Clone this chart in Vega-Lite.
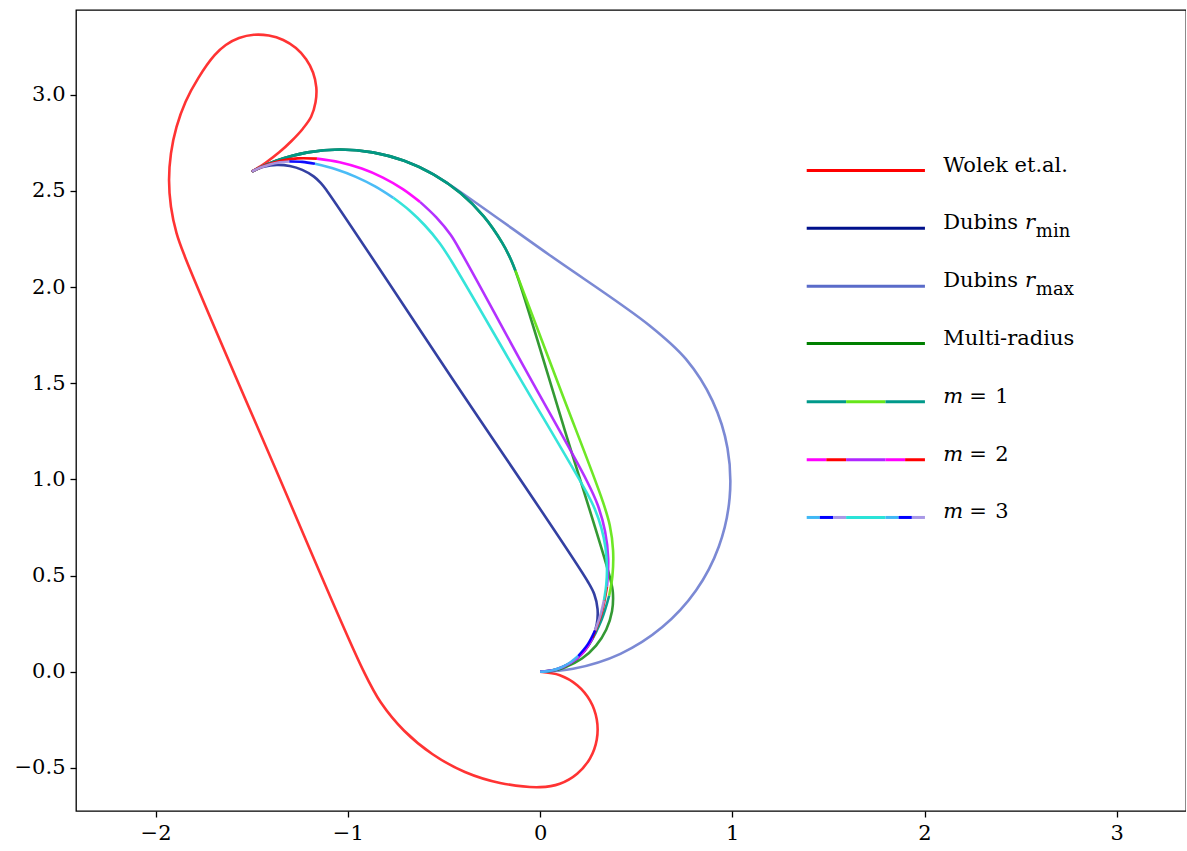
{
 "$schema": "https://vega.github.io/schema/vega-lite/v6.json",
 "width": 1110, "height": 801,
 "autosize": {"type": "none"},
 "padding": {"left": 76, "top": 10, "right": 0, "bottom": 40},
 "background": "white",
 "config": {
  "view": {"stroke": "black", "strokeWidth": 1.3},
  "axis": {"domain": false, "grid": false, "ticks": true, "tickColor": "black", "tickSize": 6, "tickWidth": 1.3, "labelFont": "DejaVu Serif", "labelFontSize": 21, "labelColor": "black", "labelPadding": 5, "title": null}
 },
 "datasets": {
  "paths": [
   {"p":"wolek","k":"wolek","s":"w","i":0,"x":-1.5,"y":2.6},
   {"p":"wolek","k":"wolek","s":"w","i":1,"x":-1.426,"y":2.647},
   {"p":"wolek","k":"wolek","s":"w","i":2,"x":-1.357,"y":2.7},
   {"p":"wolek","k":"wolek","s":"w","i":3,"x":-1.293,"y":2.759},
   {"p":"wolek","k":"wolek","s":"w","i":4,"x":-1.234,"y":2.823},
   {"p":"wolek","k":"wolek","s":"w","i":5,"x":-1.191,"y":2.885},
   {"p":"wolek","k":"wolek","s":"w","i":6,"x":-1.168,"y":2.96},
   {"p":"wolek","k":"wolek","s":"w","i":7,"x":-1.164,"y":3.038},
   {"p":"wolek","k":"wolek","s":"w","i":8,"x":-1.181,"y":3.115},
   {"p":"wolek","k":"wolek","s":"w","i":9,"x":-1.217,"y":3.184},
   {"p":"wolek","k":"wolek","s":"w","i":10,"x":-1.27,"y":3.242},
   {"p":"wolek","k":"wolek","s":"w","i":11,"x":-1.336,"y":3.284},
   {"p":"wolek","k":"wolek","s":"w","i":12,"x":-1.411,"y":3.307},
   {"p":"wolek","k":"wolek","s":"w","i":13,"x":-1.489,"y":3.311},
   {"p":"wolek","k":"wolek","s":"w","i":14,"x":-1.566,"y":3.294},
   {"p":"wolek","k":"wolek","s":"w","i":15,"x":-1.635,"y":3.258},
   {"p":"wolek","k":"wolek","s":"w","i":16,"x":-1.693,"y":3.205},
   {"p":"wolek","k":"wolek","s":"w","i":17,"x":-1.778,"y":3.086},
   {"p":"wolek","k":"wolek","s":"w","i":18,"x":-1.844,"y":2.963},
   {"p":"wolek","k":"wolek","s":"w","i":19,"x":-1.891,"y":2.832},
   {"p":"wolek","k":"wolek","s":"w","i":20,"x":-1.92,"y":2.695},
   {"p":"wolek","k":"wolek","s":"w","i":21,"x":-1.93,"y":2.556},
   {"p":"wolek","k":"wolek","s":"w","i":22,"x":-1.92,"y":2.417},
   {"p":"wolek","k":"wolek","s":"w","i":23,"x":-1.891,"y":2.28},
   {"p":"wolek","k":"wolek","s":"w","i":24,"x":-1.848,"y":2.159},
   {"p":"wolek","k":"wolek","s":"w","i":25,"x":-1.383,"y":1.0705},
   {"p":"wolek","k":"wolek","s":"w","i":26,"x":-0.918,"y":0.003},
   {"p":"wolek","k":"wolek","s":"w","i":27,"x":-0.829,"y":-0.159},
   {"p":"wolek","k":"wolek","s":"w","i":28,"x":-0.707,"y":-0.307},
   {"p":"wolek","k":"wolek","s":"w","i":29,"x":-0.559,"y":-0.429},
   {"p":"wolek","k":"wolek","s":"w","i":30,"x":-0.391,"y":-0.521},
   {"p":"wolek","k":"wolek","s":"w","i":31,"x":-0.208,"y":-0.578},
   {"p":"wolek","k":"wolek","s":"w","i":32,"x":0,"y":-0.6},
   {"p":"wolek","k":"wolek","s":"w","i":33,"x":0.103,"y":-0.582},
   {"p":"wolek","k":"wolek","s":"w","i":34,"x":0.193,"y":-0.53},
   {"p":"wolek","k":"wolek","s":"w","i":35,"x":0.26,"y":-0.45},
   {"p":"wolek","k":"wolek","s":"w","i":36,"x":0.295,"y":-0.352},
   {"p":"wolek","k":"wolek","s":"w","i":37,"x":0.295,"y":-0.248},
   {"p":"wolek","k":"wolek","s":"w","i":38,"x":0.26,"y":-0.15},
   {"p":"wolek","k":"wolek","s":"w","i":39,"x":0.193,"y":-0.07},
   {"p":"wolek","k":"wolek","s":"w","i":40,"x":0.103,"y":-0.018},
   {"p":"wolek","k":"wolek","s":"w","i":41,"x":0,"y":0},

   {"p":"rmin","k":"rmin","s":"n","i":0,"x":-1.5,"y":2.6},
   {"p":"rmin","k":"rmin","s":"n","i":1,"x":-1.437,"y":2.625},
   {"p":"rmin","k":"rmin","s":"n","i":2,"x":-1.369,"y":2.635},
   {"p":"rmin","k":"rmin","s":"n","i":3,"x":-1.302,"y":2.629},
   {"p":"rmin","k":"rmin","s":"n","i":4,"x":-1.237,"y":2.609},
   {"p":"rmin","k":"rmin","s":"n","i":5,"x":-1.178,"y":2.575},
   {"p":"rmin","k":"rmin","s":"n","i":6,"x":-1.14,"y":2.54},
   {"p":"rmin","k":"rmin","s":"n","i":7,"x":-1.11,"y":2.502},
   {"p":"rmin","k":"rmin","s":"n","i":8,"x":-0.43,"y":1.484},
   {"p":"rmin","k":"rmin","s":"n","i":9,"x":0.2495,"y":0.4666},
   {"p":"rmin","k":"rmin","s":"n","i":10,"x":0.282,"y":0.403},
   {"p":"rmin","k":"rmin","s":"n","i":11,"x":0.299,"y":0.326},
   {"p":"rmin","k":"rmin","s":"n","i":12,"x":0.295,"y":0.248},
   {"p":"rmin","k":"rmin","s":"n","i":13,"x":0.272,"y":0.173},
   {"p":"rmin","k":"rmin","s":"n","i":14,"x":0.23,"y":0.107},
   {"p":"rmin","k":"rmin","s":"n","i":15,"x":0.172,"y":0.054},
   {"p":"rmin","k":"rmin","s":"n","i":16,"x":0.103,"y":0.018},
   {"p":"rmin","k":"rmin","s":"n","i":17,"x":0.052,"y":0.0046},
   {"p":"rmin","k":"rmin","s":"n","i":18,"x":0,"y":0},

   {"p":"rmax","k":"rmax","s":"x","i":0,"x":-1.5,"y":2.6},
   {"p":"rmax","k":"rmax","s":"x","i":1,"x":-1.373,"y":2.656},
   {"p":"rmax","k":"rmax","s":"x","i":2,"x":-1.209,"y":2.7},
   {"p":"rmax","k":"rmax","s":"x","i":3,"x":-1.04,"y":2.715},
   {"p":"rmax","k":"rmax","s":"x","i":4,"x":-0.871,"y":2.7},
   {"p":"rmax","k":"rmax","s":"x","i":5,"x":-0.707,"y":2.656},
   {"p":"rmax","k":"rmax","s":"x","i":6,"x":-0.582,"y":2.601},
   {"p":"rmax","k":"rmax","s":"x","i":7,"x":-0.479,"y":2.538},
   {"p":"rmax","k":"rmax","s":"x","i":8,"x":0.045,"y":2.169},
   {"p":"rmax","k":"rmax","s":"x","i":9,"x":0.569,"y":1.8},
   {"p":"rmax","k":"rmax","s":"x","i":10,"x":0.758,"y":1.626},
   {"p":"rmax","k":"rmax","s":"x","i":11,"x":0.897,"y":1.408},
   {"p":"rmax","k":"rmax","s":"x","i":12,"x":0.975,"y":1.162},
   {"p":"rmax","k":"rmax","s":"x","i":13,"x":0.986,"y":0.904},
   {"p":"rmax","k":"rmax","s":"x","i":14,"x":0.93,"y":0.651},
   {"p":"rmax","k":"rmax","s":"x","i":15,"x":0.811,"y":0.422},
   {"p":"rmax","k":"rmax","s":"x","i":16,"x":0.636,"y":0.232},
   {"p":"rmax","k":"rmax","s":"x","i":17,"x":0.418,"y":0.093},
   {"p":"rmax","k":"rmax","s":"x","i":18,"x":0.172,"y":0.015},
   {"p":"rmax","k":"rmax","s":"x","i":19,"x":0,"y":0},

   {"p":"multi","k":"multi","s":"g","i":0,"x":-1.5,"y":2.6},
   {"p":"multi","k":"multi","s":"g","i":1,"x":-1.373,"y":2.656},
   {"p":"multi","k":"multi","s":"g","i":2,"x":-1.209,"y":2.7},
   {"p":"multi","k":"multi","s":"g","i":3,"x":-1.04,"y":2.715},
   {"p":"multi","k":"multi","s":"g","i":4,"x":-0.871,"y":2.7},
   {"p":"multi","k":"multi","s":"g","i":5,"x":-0.707,"y":2.656},
   {"p":"multi","k":"multi","s":"g","i":6,"x":-0.553,"y":2.584},
   {"p":"multi","k":"multi","s":"g","i":7,"x":-0.413,"y":2.487},
   {"p":"multi","k":"multi","s":"g","i":8,"x":-0.293,"y":2.367},
   {"p":"multi","k":"multi","s":"g","i":9,"x":-0.196,"y":2.228},
   {"p":"multi","k":"multi","s":"g","i":10,"x":-0.146,"y":2.129},
   {"p":"multi","k":"multi","s":"g","i":11,"x":-0.108,"y":2.026},
   {"p":"multi","k":"multi","s":"g","i":12,"x":0.1275,"y":1.259},
   {"p":"multi","k":"multi","s":"g","i":13,"x":0.363,"y":0.4915},
   {"p":"multi","k":"multi","s":"g","i":14,"x":0.3786,"y":0.4131},
   {"p":"multi","k":"multi","s":"g","i":15,"x":0.3742,"y":0.314},
   {"p":"multi","k":"multi","s":"g","i":16,"x":0.3444,"y":0.2194},
   {"p":"multi","k":"multi","s":"g","i":17,"x":0.2911,"y":0.1357},
   {"p":"multi","k":"multi","s":"g","i":18,"x":0.218,"y":0.0687},
   {"p":"multi","k":"multi","s":"g","i":19,"x":0.13,"y":0.0229},
   {"p":"multi","k":"multi","s":"g","i":20,"x":0.066,"y":0.0058},
   {"p":"multi","k":"multi","s":"g","i":21,"x":0,"y":0},

   {"p":"m1","k":"teal","s":"m1a","i":0,"x":-1.5,"y":2.6},
   {"p":"m1","k":"teal","s":"m1a","i":1,"x":-1.373,"y":2.656},
   {"p":"m1","k":"teal","s":"m1a","i":2,"x":-1.209,"y":2.7},
   {"p":"m1","k":"teal","s":"m1a","i":3,"x":-1.04,"y":2.715},
   {"p":"m1","k":"teal","s":"m1a","i":4,"x":-0.871,"y":2.7},
   {"p":"m1","k":"teal","s":"m1a","i":5,"x":-0.707,"y":2.656},
   {"p":"m1","k":"teal","s":"m1a","i":6,"x":-0.553,"y":2.584},
   {"p":"m1","k":"teal","s":"m1a","i":7,"x":-0.413,"y":2.487},
   {"p":"m1","k":"teal","s":"m1a","i":8,"x":-0.293,"y":2.367},
   {"p":"m1","k":"teal","s":"m1a","i":9,"x":-0.196,"y":2.228},
   {"p":"m1","k":"teal","s":"m1a","i":10,"x":-0.156,"y":2.152},
   {"p":"m1","k":"teal","s":"m1a","i":11,"x":-0.128,"y":2.085},
   {"p":"m1","k":"lime","s":"m1b","i":0,"x":-0.128,"y":2.085},
   {"p":"m1","k":"lime","s":"m1b","i":1,"x":0.101,"y":1.48},
   {"p":"m1","k":"lime","s":"m1b","i":2,"x":0.3264,"y":0.8844},
   {"p":"m1","k":"lime","s":"m1b","i":3,"x":0.3625,"y":0.7613},
   {"p":"m1","k":"lime","s":"m1b","i":4,"x":0.3798,"y":0.6297},
   {"p":"m1","k":"lime","s":"m1b","i":5,"x":0.3763,"y":0.497},
   {"p":"m1","k":"lime","s":"m1b","i":6,"x":0.3593,"y":0.3951},
   {"p":"m1","k":"teal","s":"m1c","i":0,"x":0.3593,"y":0.3951},
   {"p":"m1","k":"teal","s":"m1c","i":1,"x":0.3194,"y":0.2685},
   {"p":"m1","k":"teal","s":"m1c","i":2,"x":0.2563,"y":0.1434},
   {"p":"m1","k":"teal","s":"m1c","i":3,"x":0.2084,"y":0.0842},
   {"p":"m1","k":"teal","s":"m1c","i":4,"x":0.15,"y":0.0402},
   {"p":"m1","k":"teal","s":"m1c","i":5,"x":0.0776,"y":0.0102},
   {"p":"m1","k":"teal","s":"m1c","i":6,"x":0,"y":0},

   {"p":"m2","k":"red","s":"m2a","i":0,"x":-1.5,"y":2.6},
   {"p":"m2","k":"red","s":"m2a","i":1,"x":-1.4235,"y":2.634},
   {"p":"m2","k":"red","s":"m2a","i":2,"x":-1.343,"y":2.657},
   {"p":"m2","k":"red","s":"m2a","i":3,"x":-1.2602,"y":2.6688},
   {"p":"m2","k":"red","s":"m2a","i":4,"x":-1.1608,"y":2.6674},
   {"p":"m2","k":"magenta","s":"m2b","i":0,"x":-1.1608,"y":2.6674},
   {"p":"m2","k":"magenta","s":"m2b","i":1,"x":-1.0426,"y":2.6487},
   {"p":"m2","k":"magenta","s":"m2b","i":2,"x":-0.9276,"y":2.6157},
   {"p":"m2","k":"magenta","s":"m2b","i":3,"x":-0.8174,"y":2.5689},
   {"p":"m2","k":"magenta","s":"m2b","i":4,"x":-0.7138,"y":2.5091},
   {"p":"m2","k":"magenta","s":"m2b","i":5,"x":-0.6248,"y":2.4426},
   {"p":"m2","k":"purple","s":"m2c","i":0,"x":-0.6248,"y":2.4426},
   {"p":"m2","k":"purple","s":"m2c","i":1,"x":-0.5398,"y":2.3619},
   {"p":"m2","k":"purple","s":"m2c","i":2,"x":-0.4653,"y":2.2715},
   {"p":"m2","k":"purple","s":"m2c","i":3,"x":-0.4039,"y":2.1682},
   {"p":"m2","k":"purple","s":"m2c","i":4,"x":-0.0802,"y":1.578},
   {"p":"m2","k":"purple","s":"m2c","i":5,"x":0.2428,"y":0.9928},
   {"p":"m2","k":"purple","s":"m2c","i":6,"x":0.2999,"y":0.8667},
   {"p":"m2","k":"purple","s":"m2c","i":7,"x":0.3382,"y":0.7286},
   {"p":"m2","k":"purple","s":"m2c","i":8,"x":0.3545,"y":0.5863},
   {"p":"m2","k":"purple","s":"m2c","i":9,"x":0.3482,"y":0.4431},
   {"p":"m2","k":"red","s":"m2d","i":0,"x":0.3482,"y":0.4431},
   {"p":"m2","k":"red","s":"m2d","i":1,"x":0.3197,"y":0.3028},
   {"p":"m2","k":"red","s":"m2d","i":2,"x":0.2728,"y":0.1758},
   {"p":"m2","k":"magenta","s":"m2e","i":0,"x":0.2728,"y":0.1758},
   {"p":"m2","k":"magenta","s":"m2e","i":1,"x":0.2264,"y":0.1032},
   {"p":"m2","k":"magenta","s":"m2e","i":2,"x":0.1612,"y":0.047},
   {"p":"m2","k":"magenta","s":"m2e","i":3,"x":0.0827,"y":0.0116},
   {"p":"m2","k":"magenta","s":"m2e","i":4,"x":0,"y":0},

   {"p":"m3","k":"lav","s":"m3a","i":0,"x":-1.5,"y":2.6},
   {"p":"m3","k":"lav","s":"m3a","i":1,"x":-1.4536,"y":2.6214},
   {"p":"m3","k":"lav","s":"m3a","i":2,"x":-1.4052,"y":2.6374},
   {"p":"m3","k":"lav","s":"m3a","i":3,"x":-1.3552,"y":2.6478},
   {"p":"m3","k":"lav","s":"m3a","i":4,"x":-1.3044,"y":2.6524},
   {"p":"m3","k":"blue","s":"m3b","i":0,"x":-1.3044,"y":2.6524},
   {"p":"m3","k":"blue","s":"m3b","i":1,"x":-1.2372,"y":2.6506},
   {"p":"m3","k":"blue","s":"m3b","i":2,"x":-1.1709,"y":2.6407},
   {"p":"m3","k":"lblue","s":"m3c","i":0,"x":-1.1709,"y":2.6407},
   {"p":"m3","k":"lblue","s":"m3c","i":1,"x":-1.0628,"y":2.6121},
   {"p":"m3","k":"lblue","s":"m3c","i":2,"x":-0.9583,"y":2.5727},
   {"p":"m3","k":"lblue","s":"m3c","i":3,"x":-0.8582,"y":2.5231},
   {"p":"m3","k":"lblue","s":"m3c","i":4,"x":-0.7635,"y":2.4637},
   {"p":"m3","k":"turq","s":"m3d","i":0,"x":-0.7635,"y":2.4637},
   {"p":"m3","k":"turq","s":"m3d","i":1,"x":-0.6777,"y":2.3966},
   {"p":"m3","k":"turq","s":"m3d","i":2,"x":-0.6,"y":2.321},
   {"p":"m3","k":"turq","s":"m3d","i":3,"x":-0.5239,"y":2.2303},
   {"p":"m3","k":"turq","s":"m3d","i":4,"x":-0.462,"y":2.1365},
   {"p":"m3","k":"turq","s":"m3d","i":5,"x":-0.1123,"y":1.5382},
   {"p":"m3","k":"turq","s":"m3d","i":6,"x":0.2382,"y":0.9387},
   {"p":"m3","k":"turq","s":"m3d","i":7,"x":0.2841,"y":0.8471},
   {"p":"m3","k":"turq","s":"m3d","i":8,"x":0.3187,"y":0.7478},
   {"p":"m3","k":"turq","s":"m3d","i":9,"x":0.3402,"y":0.6449},
   {"p":"m3","k":"turq","s":"m3d","i":10,"x":0.348,"y":0.533},
   {"p":"m3","k":"turq","s":"m3d","i":11,"x":0.3441,"y":0.4516},
   {"p":"m3","k":"turq","s":"m3d","i":12,"x":0.3324,"y":0.3708},
   {"p":"m3","k":"lav","s":"m3e","i":0,"x":0.3324,"y":0.3708},
   {"p":"m3","k":"lav","s":"m3e","i":1,"x":0.313,"y":0.2916},
   {"p":"m3","k":"lav","s":"m3e","i":2,"x":0.2861,"y":0.2146},
   {"p":"m3","k":"blue","s":"m3f","i":0,"x":0.2861,"y":0.2146},
   {"p":"m3","k":"blue","s":"m3f","i":1,"x":0.2488,"y":0.1436},
   {"p":"m3","k":"blue","s":"m3f","i":2,"x":0.198,"y":0.0816},
   {"p":"m3","k":"lblue","s":"m3g","i":0,"x":0.198,"y":0.0816},
   {"p":"m3","k":"lblue","s":"m3g","i":1,"x":0.1566,"y":0.0479},
   {"p":"m3","k":"lblue","s":"m3g","i":2,"x":0.1094,"y":0.0223},
   {"p":"m3","k":"lblue","s":"m3g","i":3,"x":0.0558,"y":0.0056},
   {"p":"m3","k":"lblue","s":"m3g","i":4,"x":0,"y":0},

   {"p":"legend","k":"wolek","s":"L1","i":0,"x":1.387,"y":2.605},
   {"p":"legend","k":"wolek","s":"L1","i":1,"x":2.002,"y":2.605},
   {"p":"legend","k":"rmin","s":"L2","i":0,"x":1.387,"y":2.306},
   {"p":"legend","k":"rmin","s":"L2","i":1,"x":2.002,"y":2.306},
   {"p":"legend","k":"rmax","s":"L3","i":0,"x":1.387,"y":2.004},
   {"p":"legend","k":"rmax","s":"L3","i":1,"x":2.002,"y":2.004},
   {"p":"legend","k":"multi","s":"L4","i":0,"x":1.387,"y":1.706},
   {"p":"legend","k":"multi","s":"L4","i":1,"x":2.002,"y":1.706},
   {"p":"legend","k":"teal","s":"L5a","i":0,"x":1.387,"y":1.403},
   {"p":"legend","k":"teal","s":"L5a","i":1,"x":1.592,"y":1.403},
   {"p":"legend","k":"lime","s":"L5b","i":0,"x":1.592,"y":1.403},
   {"p":"legend","k":"lime","s":"L5b","i":1,"x":1.797,"y":1.403},
   {"p":"legend","k":"teal","s":"L5c","i":0,"x":1.797,"y":1.403},
   {"p":"legend","k":"teal","s":"L5c","i":1,"x":2.002,"y":1.403},
   {"p":"legend","k":"magenta","s":"L6a","i":0,"x":1.387,"y":1.102},
   {"p":"legend","k":"magenta","s":"L6a","i":1,"x":1.489,"y":1.102},
   {"p":"legend","k":"red","s":"L6b","i":0,"x":1.489,"y":1.102},
   {"p":"legend","k":"red","s":"L6b","i":1,"x":1.592,"y":1.102},
   {"p":"legend","k":"purple","s":"L6c","i":0,"x":1.592,"y":1.102},
   {"p":"legend","k":"purple","s":"L6c","i":1,"x":1.797,"y":1.102},
   {"p":"legend","k":"magenta","s":"L6d","i":0,"x":1.797,"y":1.102},
   {"p":"legend","k":"magenta","s":"L6d","i":1,"x":1.899,"y":1.102},
   {"p":"legend","k":"red","s":"L6e","i":0,"x":1.899,"y":1.102},
   {"p":"legend","k":"red","s":"L6e","i":1,"x":2.002,"y":1.102},
   {"p":"legend","k":"lblue","s":"L7a","i":0,"x":1.387,"y":0.802},
   {"p":"legend","k":"lblue","s":"L7a","i":1,"x":1.455,"y":0.802},
   {"p":"legend","k":"blue","s":"L7b","i":0,"x":1.455,"y":0.802},
   {"p":"legend","k":"blue","s":"L7b","i":1,"x":1.524,"y":0.802},
   {"p":"legend","k":"lav","s":"L7c","i":0,"x":1.524,"y":0.802},
   {"p":"legend","k":"lav","s":"L7c","i":1,"x":1.592,"y":0.802},
   {"p":"legend","k":"turq","s":"L7d","i":0,"x":1.592,"y":0.802},
   {"p":"legend","k":"turq","s":"L7d","i":1,"x":1.797,"y":0.802},
   {"p":"legend","k":"lblue","s":"L7e","i":0,"x":1.797,"y":0.802},
   {"p":"legend","k":"lblue","s":"L7e","i":1,"x":1.865,"y":0.802},
   {"p":"legend","k":"blue","s":"L7f","i":0,"x":1.865,"y":0.802},
   {"p":"legend","k":"blue","s":"L7f","i":1,"x":1.934,"y":0.802},
   {"p":"legend","k":"lav","s":"L7g","i":0,"x":1.934,"y":0.802},
   {"p":"legend","k":"lav","s":"L7g","i":1,"x":2.002,"y":0.802}
  ],
  "labels": [
   {"f":"main","t":"Wolek et.al.","x":2.097,"y":2.605},
   {"f":"main","t":"Dubins","x":2.097,"y":2.306},
   {"f":"ital","t":"r","x":2.522,"y":2.306},
   {"f":"sub","t":"min","x":2.579,"y":2.266},
   {"f":"main","t":"Dubins","x":2.097,"y":2.004},
   {"f":"ital","t":"r","x":2.522,"y":2.004},
   {"f":"sub","t":"max","x":2.579,"y":1.966},
   {"f":"main","t":"Multi-radius","x":2.097,"y":1.706},
   {"f":"ital","t":"m","x":2.097,"y":1.403},
   {"f":"main","t":"=","x":2.233,"y":1.403},
   {"f":"main","t":"1","x":2.368,"y":1.403},
   {"f":"ital","t":"m","x":2.097,"y":1.102},
   {"f":"main","t":"=","x":2.233,"y":1.102},
   {"f":"main","t":"2","x":2.368,"y":1.102},
   {"f":"ital","t":"m","x":2.097,"y":0.802},
   {"f":"main","t":"=","x":2.233,"y":0.802},
   {"f":"main","t":"3","x":2.368,"y":0.802}
  ]
 },
 "encoding": {
  "x": {"field": "x", "type": "quantitative", "scale": {"domain": [-2.414, 3.36], "nice": false, "zero": false}, "axis": {"values": [-2, -1, 0, 1, 2, 3], "format": "d", "labelExpr": "replace(datum.label, '-', '−')"}},
  "y": {"field": "y", "type": "quantitative", "scale": {"domain": [-0.724, 3.44], "nice": false, "zero": false}, "axis": {"values": [-0.5, 0, 0.5, 1, 1.5, 2, 2.5, 3], "format": ".1f", "labelExpr": "replace(datum.label, '-', '−')"}},
  "color": {"field": "k", "type": "nominal", "legend": null, "scale": {"domain": ["wolek", "rmin", "rmax", "multi", "teal", "lime", "magenta", "red", "purple", "lblue", "blue", "lav", "turq"], "range": ["#ff0000", "#00108b", "#5a6bc9", "#008000", "#00998a", "#66e61a", "#ff00ff", "#ff0000", "#b026ff", "#40b8f5", "#0000ff", "#a898e6", "#2ae3d8"]}},
  "detail": {"field": "s", "type": "nominal"},
  "order": {"field": "i", "type": "quantitative"}
 },
 "layer": [
  {"data": {"name": "paths"}, "transform": [{"filter": "datum.p === 'wolek'"}], "mark": {"type": "line", "strokeWidth": 2.6, "opacity": 0.8, "interpolate": "catmull-rom"}},
  {"data": {"name": "paths"}, "transform": [{"filter": "datum.p === 'rmin'"}], "mark": {"type": "line", "strokeWidth": 2.6, "opacity": 0.8, "interpolate": "catmull-rom"}},
  {"data": {"name": "paths"}, "transform": [{"filter": "datum.p === 'rmax'"}], "mark": {"type": "line", "strokeWidth": 2.6, "opacity": 0.8, "interpolate": "catmull-rom"}},
  {"data": {"name": "paths"}, "transform": [{"filter": "datum.p === 'multi'"}], "mark": {"type": "line", "strokeWidth": 2.6, "opacity": 0.8, "interpolate": "catmull-rom"}},
  {"data": {"name": "paths"}, "transform": [{"filter": "datum.p === 'm1'"}], "mark": {"type": "line", "strokeWidth": 2.6, "opacity": 0.95, "interpolate": "catmull-rom"}},
  {"data": {"name": "paths"}, "transform": [{"filter": "datum.p === 'm2'"}], "mark": {"type": "line", "strokeWidth": 2.6, "opacity": 0.95, "interpolate": "catmull-rom"}},
  {"data": {"name": "paths"}, "transform": [{"filter": "datum.p === 'm3'"}], "mark": {"type": "line", "strokeWidth": 2.6, "opacity": 0.95, "interpolate": "catmull-rom"}},
  {"data": {"name": "paths"}, "transform": [{"filter": "datum.p === 'legend'"}], "mark": {"type": "line", "strokeWidth": 3, "interpolate": "linear"}},
  {"data": {"name": "labels"}, "transform": [{"filter": "datum.f === 'main'"}], "mark": {"type": "text", "align": "left", "baseline": "alphabetic", "dy": 1, "font": "DejaVu Serif", "fontSize": 21}, "encoding": {"text": {"field": "t"}, "color": {"value": "black"}}},
  {"data": {"name": "labels"}, "transform": [{"filter": "datum.f === 'ital'"}], "mark": {"type": "text", "align": "left", "baseline": "alphabetic", "dy": 1, "font": "DejaVu Serif", "fontSize": 21, "fontStyle": "italic"}, "encoding": {"text": {"field": "t"}, "color": {"value": "black"}}},
  {"data": {"name": "labels"}, "transform": [{"filter": "datum.f === 'sub'"}], "mark": {"type": "text", "align": "left", "baseline": "alphabetic", "dy": 1, "font": "DejaVu Serif", "fontSize": 18}, "encoding": {"text": {"field": "t"}, "color": {"value": "black"}}}
 ]
}
